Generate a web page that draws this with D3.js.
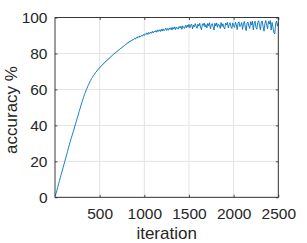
<!DOCTYPE html>
<html><head><meta charset="utf-8">
<script src="https://cdn.jsdelivr.net/npm/d3@7"></script>
<style>
html,body{margin:0;padding:0;background:#fff;}
svg{display:block;}
text{font-family:"Liberation Sans",Arial,Helvetica,sans-serif;fill:#262626;}
</style></head><body>
<svg id="c" width="307" height="243"></svg>
<script>
// accuracy sampled every 10 iterations (0..2500)
const iterStep = 10;
const accuracy = [
0.5, 1.9, 3.6, 5.4, 7.5, 9.3, 11.1, 12.8, 14.6, 16.4,
18.2, 20.0, 21.8, 23.6, 25.4, 27.3, 29.1, 31.0, 32.6, 34.2,
35.8, 37.4, 39.1, 40.9, 42.5, 44.3, 45.8, 47.7, 49.2, 51.1,
52.6, 54.3, 55.6, 57.2, 58.3, 59.8, 60.8, 62.1, 63.0, 64.2,
65.0, 66.2, 66.7, 67.8, 68.2, 69.2, 69.6, 70.5, 70.8, 71.7,
71.9, 72.8, 73.0, 73.8, 74.0, 74.8, 75.0, 75.8, 75.9, 76.7,
76.8, 77.6, 77.8, 78.5, 78.7, 79.4, 79.6, 80.3, 80.4, 81.1,
81.2, 81.9, 82.0, 82.7, 82.8, 83.5, 83.6, 84.3, 84.4, 85.1,
85.1, 85.9, 85.8, 86.6, 86.4, 87.2, 87.0, 87.8, 87.6, 88.4,
88.0, 88.9, 88.5, 89.4, 88.9, 89.8, 89.3, 90.1, 89.7, 90.6,
90.0, 91.0, 90.5, 91.5, 90.6, 91.7, 91.0, 91.9, 91.2, 92.3,
91.4, 92.4, 91.9, 92.8, 91.8, 93.1, 92.3, 93.2, 92.2, 93.5,
92.4, 93.7, 92.6, 93.3, 94.1, 92.8, 93.9, 92.9, 94.2, 93.4,
94.4, 93.0, 94.5, 93.6, 94.8, 93.2, 94.7, 94.0, 93.5, 95.0,
94.1, 95.2, 93.4, 95.3, 94.5, 93.9, 95.6, 94.3, 95.8, 94.6,
96.2, 94.3, 95.9, 96.4, 93.6, 95.7, 94.8, 96.6, 95.1, 94.0,
96.3, 95.2, 96.8, 94.4, 93.2, 96.5, 95.6, 96.9, 94.7, 96.1,
94.2, 96.7, 95.4, 97.1, 93.7, 95.8, 96.6, 94.9, 93.0, 96.8,
95.2, 97.0, 94.6, 96.3, 95.7, 93.9, 97.2, 95.0, 96.5, 94.4,
93.6, 96.9, 95.8, 97.3, 94.2, 96.0, 97.1, 94.8, 93.9, 97.0,
95.4, 94.5, 97.4, 96.1, 93.3, 96.8, 97.6, 94.9, 95.7, 97.2,
93.4, 96.5, 97.8, 94.7, 92.7, 96.9, 97.5, 95.3, 93.9, 97.7,
95.8, 98.0, 93.1, 96.6, 97.9, 94.5, 93.5, 97.3, 98.2, 95.4,
93.2, 97.6, 98.1, 94.8, 92.4, 96.7, 98.3, 95.6, 93.7, 97.9,
96.4, 98.3, 93.0, 97.2, 94.6, 91.6, 90.8, 96.5, 98.0, 95.2,
97.0
];
const xTicks = [500, 1000, 1500, 2000, 2500];
const yTicks = [0, 20, 40, 60, 80, 100];
const xLabel = "iteration";
const yLabel = "accuracy %";

const L = 55, R = 278.3, T = 17.5, B = 197.3;
const svg = d3.select("#c");
const x = d3.scaleLinear().domain([0, 2500]).range([L, R]);
const y = d3.scaleLinear().domain([0, 100]).range([B, T]);

// grid
const g = svg.append("g");
g.selectAll(".gx").data(xTicks).enter().append("line")
  .attr("x1", d => x(d)).attr("x2", d => x(d)).attr("y1", T).attr("y2", B)
  .attr("stroke", "#e3e3e3").attr("stroke-width", 1);
g.selectAll(".gy").data(yTicks).enter().append("line")
  .attr("y1", d => y(d)).attr("y2", d => y(d)).attr("x1", L).attr("x2", R)
  .attr("stroke", "#e3e3e3").attr("stroke-width", 1);

// line
const line = d3.line().x((d, i) => x(i * iterStep)).y(d => y(d));
svg.append("path").datum(accuracy).attr("d", line)
  .attr("fill", "none").attr("stroke", "#0072BD").attr("stroke-width", 0.9)
  .attr("stroke-linejoin", "round");

// axes (ticks inside)
const tl = 2.5;
const fmt = d3.format("d");
const ax = svg.append("g").attr("transform", `translate(0,${B})`)
  .call(d3.axisBottom(x).tickValues(xTicks).tickSize(-tl).tickPadding(11).tickFormat(fmt));
const axTop = svg.append("g").attr("transform", `translate(0,${T})`)
  .call(d3.axisTop(x).tickValues(xTicks).tickSize(-tl).tickFormat(""));
const ay = svg.append("g").attr("transform", `translate(${L},0)`)
  .call(d3.axisLeft(y).tickValues(yTicks).tickSize(-tl).tickPadding(7.5).tickFormat(fmt));
const ayR = svg.append("g").attr("transform", `translate(${R},0)`)
  .call(d3.axisRight(y).tickValues(yTicks).tickSize(-tl).tickFormat(""));
[ax, axTop, ay, ayR].forEach(a => {
  a.select(".domain").remove();
  a.selectAll(".tick line").attr("stroke", "#262626").attr("stroke-width", 0.8);
  a.selectAll("text").style("font-size", "15.5px").attr("fill", "#262626");
});
// box
svg.append("rect").attr("x", L).attr("y", T).attr("width", R - L).attr("height", B - T)
  .attr("fill", "none").attr("stroke", "#262626").attr("stroke-width", 0.9);

svg.append("text").attr("x", (L + R) / 2).attr("y", 238.5).attr("text-anchor", "middle")
  .style("font-size", "17px").text(xLabel);
svg.append("text").attr("transform", `translate(17,110) rotate(-90)`).attr("text-anchor", "middle")
  .style("font-size", "17px").text(yLabel);
</script>
</body></html>
